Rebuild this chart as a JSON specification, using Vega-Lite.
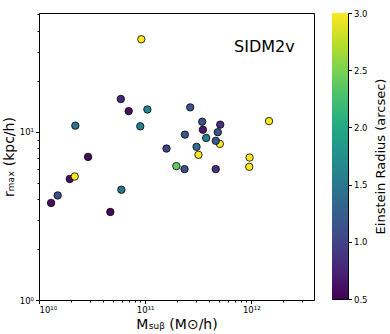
{
  "$schema": "https://vega.github.io/schema/vega-lite/v6.json",
  "padding": {"left": 1, "top": 8, "right": 1, "bottom": 2},
  "background": "white",
  "config": {
    "font": "DejaVu Sans",
    "view": {"stroke": "black", "strokeWidth": 1},
    "axis": {"grid": false, "domain": false, "tickColor": "black", "labelColor": "black", "titleColor": "black", "labelFont": "DejaVu Sans", "titleFont": "DejaVu Sans", "labelFontSize": 8.5, "titleFontWeight": "normal", "titleFontSize": 14}
  },
  "datasets": {
    "pts": [
      {"m": 9.2e10, "r": 35.6, "e": 3.0},
      {"m": 5.9e10, "r": 15.7, "e": 0.8},
      {"m": 7.0e10, "r": 13.3, "e": 0.6},
      {"m": 1.05e11, "r": 13.6, "e": 1.6},
      {"m": 9.0e10, "r": 10.8, "e": 1.6},
      {"m": 2.2e10, "r": 10.9, "e": 1.45},
      {"m": 2.9e10, "r": 7.1, "e": 0.55},
      {"m": 1.95e10, "r": 5.25, "e": 0.6},
      {"m": 2.17e10, "r": 5.43, "e": 3.0},
      {"m": 1.5e10, "r": 4.19, "e": 1.1},
      {"m": 1.3e10, "r": 3.78, "e": 0.6},
      {"m": 5.97e10, "r": 4.53, "e": 1.45},
      {"m": 4.7e10, "r": 3.34, "e": 0.55},
      {"m": 1.59e11, "r": 7.96, "e": 1.0},
      {"m": 1.97e11, "r": 6.26, "e": 2.4},
      {"m": 2.35e11, "r": 6.01, "e": 1.1},
      {"m": 2.37e11, "r": 9.64, "e": 1.1},
      {"m": 2.66e11, "r": 14.0, "e": 1.15},
      {"m": 3.05e11, "r": 8.15, "e": 1.4},
      {"m": 3.18e11, "r": 7.31, "e": 3.0},
      {"m": 3.45e11, "r": 11.5, "e": 1.1},
      {"m": 3.5e11, "r": 10.3, "e": 0.65},
      {"m": 3.76e11, "r": 9.2, "e": 1.55},
      {"m": 5.06e11, "r": 8.49, "e": 3.0},
      {"m": 4.63e11, "r": 8.85, "e": 1.2},
      {"m": 4.84e11, "r": 9.96, "e": 1.15},
      {"m": 5.1e11, "r": 11.05, "e": 0.85},
      {"m": 4.63e11, "r": 6.01, "e": 0.85},
      {"m": 9.64e11, "r": 7.04, "e": 3.0},
      {"m": 9.57e11, "r": 6.2, "e": 3.0},
      {"m": 1.47e12, "r": 11.6, "e": 3.0}
    ],
    "lbl": [{"m": 1.33e12, "r": 31.9, "t": "SIDM2v"}],
    "bar": [{"lo": 0.5, "hi": 3.0}]
  },
  "hconcat": [
    {
      "width": 275,
      "height": 287,
      "layer": [
        {
          "data": {"name": "pts"},
          "mark": {"type": "circle", "size": 55, "stroke": "black", "strokeWidth": 0.8, "opacity": 1},
          "encoding": {
            "x": {
              "field": "m", "type": "quantitative",
              "scale": {"type": "log", "domain": [1e10, 3.9e12], "nice": false},
              "axis": {
                "title": "Mₛᵤᵦ (M⊙/h)",
                "values": [1e10, 2e10, 3e10, 4e10, 5e10, 6e10, 7e10, 8e10, 9e10, 1e11, 2e11, 3e11, 4e11, 5e11, 6e11, 7e11, 8e11, 9e11, 1e12, 2e12, 3e12],
                "labelExpr": "datum.value == 1e10 ? '10¹⁰' : datum.value == 1e11 ? '10¹¹' : datum.value == 1e12 ? '10¹²' : ''",
                "tickSize": {"condition": {"test": "abs(log(datum.value)/LN10 - round(log(datum.value)/LN10)) < 0.001", "value": 3.5}, "value": 2},
                "labelPadding": 2,
                "titlePadding": 3
              }
            },
            "y": {
              "field": "r", "type": "quantitative",
              "scale": {"type": "log", "domain": [1, 51], "nice": false},
              "axis": {
                "title": "rₘₐₓ (kpc/h)",
                "values": [1, 2, 3, 4, 5, 6, 7, 8, 9, 10, 20, 30, 40, 50],
                "labelExpr": "datum.value == 1 ? '10⁰' : datum.value == 10 ? '10¹' : ''",
                "tickSize": {"condition": {"test": "abs(log(datum.value)/LN10 - round(log(datum.value)/LN10)) < 0.001", "value": 3.5}, "value": 2},
                "labelPadding": 2,
                "titlePadding": 3
              }
            },
            "color": {"field": "e", "type": "quantitative", "scale": {"scheme": "viridis", "domain": [0.5, 3]}, "legend": null}
          }
        },
        {
          "data": {"name": "lbl"},
          "mark": {"type": "text", "fontSize": 16, "font": "DejaVu Sans", "color": "black", "align": "center", "baseline": "middle"},
          "encoding": {
            "x": {"field": "m", "type": "quantitative"},
            "y": {"field": "r", "type": "quantitative"},
            "text": {"field": "t"}
          }
        }
      ]
    },
    {
      "width": 16,
      "height": 286,
      "data": {"name": "bar"},
      "mark": {
        "type": "rect",
        "fill": {
          "gradient": "linear", "x1": 0, "y1": 1, "x2": 0, "y2": 0,
          "stops": [
            {"offset": 0, "color": "#440154"},
            {"offset": 0.1, "color": "#482475"},
            {"offset": 0.2, "color": "#414487"},
            {"offset": 0.3, "color": "#355f8d"},
            {"offset": 0.4, "color": "#2a788e"},
            {"offset": 0.5, "color": "#21918c"},
            {"offset": 0.6, "color": "#22a884"},
            {"offset": 0.7, "color": "#44bf70"},
            {"offset": 0.8, "color": "#7ad151"},
            {"offset": 0.9, "color": "#bddf26"},
            {"offset": 1, "color": "#fde725"}
          ]
        }
      },
      "encoding": {
        "y": {
          "field": "lo", "type": "quantitative",
          "scale": {"domain": [0.5, 3], "nice": false, "zero": false},
          "axis": {
            "orient": "right",
            "title": "Einstein Radius (arcsec)",
            "titleFontSize": 13,
            "titleAngle": -90,
            "titleBaseline": "top",
            "titlePadding": 7,
            "values": [0.5, 1, 1.5, 2, 2.5, 3],
            "format": ".1f",
            "tickSize": 3.5,
            "labelPadding": 2
          }
        },
        "y2": {"field": "hi"}
      }
    }
  ],
  "spacing": 16
}
